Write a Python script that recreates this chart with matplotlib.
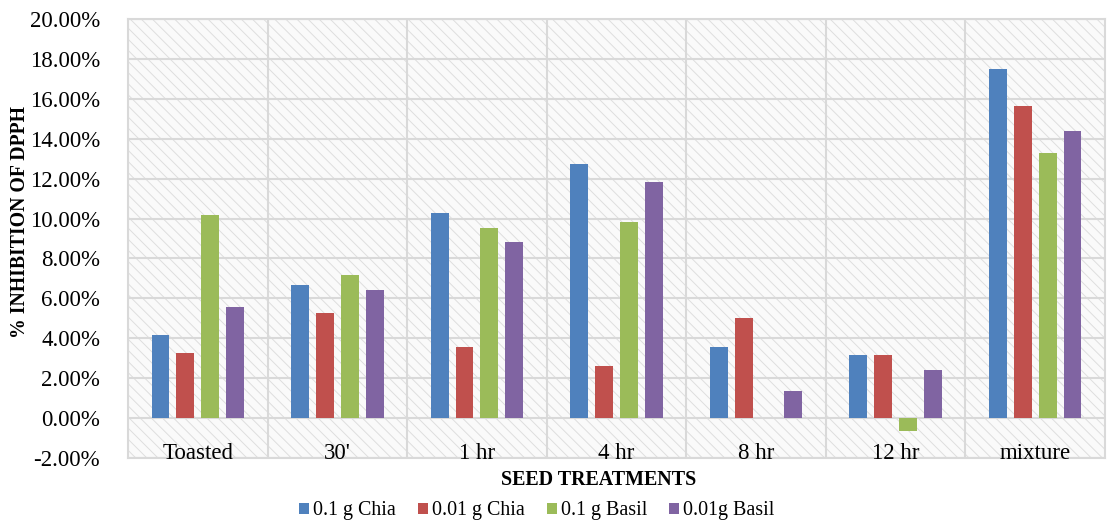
import numpy as np
import matplotlib
matplotlib.use("Agg")
import matplotlib.pyplot as plt
from matplotlib.patches import Rectangle

# values in percent
categories = ["Toasted", "30'", "1 hr", "4 hr", "8 hr", "12 hr", "mixture"]
series_names = ["0.1 g Chia", "0.01 g Chia", "0.1 g Basil", "0.01g Basil"]
chia_01 = [4.17, 6.67, 10.27, 12.72, 3.58, 3.18, 17.47]
chia_001 = [3.25, 5.27, 3.57, 2.62, 5.00, 3.17, 15.65]
basil_01 = [10.18, 7.17, 9.55, 9.83, 0.0, -0.63, 13.30]
basil_001 = [5.57, 6.40, 8.82, 11.82, 1.35, 2.40, 14.38]
yticks = np.arange(-2, 20.01, 2)

colors = ["#4F81BD", "#C0504D", "#9BBB59", "#8064A2"]
grid_c = "#d9d9d9"

plt.rcParams["font.family"] = ["Liberation Serif", "DejaVu Serif"]
plt.rcParams["hatch.linewidth"] = 0.7
plt.rcParams["hatch.color"] = "#dedede"

fig = plt.figure(figsize=(11.07, 5.24), dpi=100)
ax = fig.add_axes([128 / 1107, 1 - 458 / 524, (1105 - 128) / 1107, (458 - 19) / 524])

# textured plot area
ax.add_patch(Rectangle((0, 0), 1, 1, transform=ax.transAxes, facecolor="#fafafa",
                       edgecolor="#dedede", hatch="\\\\\\", linewidth=0, zorder=0))

x = np.arange(len(categories))
step = 0.178
width = 0.128
for i, (vals, name) in enumerate(zip([chia_01, chia_001, basil_01, basil_001], series_names)):
    ax.bar(x + (i - 1.5) * step, vals, width, color=colors[i], label=name, zorder=3)

ax.set_xlim(-0.5, len(categories) - 0.5)
ax.set_ylim(-2, 20)
ax.set_yticks(yticks)
ax.set_yticklabels([f"{v:.2f}%" for v in yticks], fontsize=16.5)
ax.tick_params(axis="y", length=0, pad=20)
ax.set_xticks([])
for v in yticks:
    ax.axhline(v, color=grid_c, lw=1.5, zorder=1)
for b in np.arange(0.5, len(categories) - 0.5):
    ax.axvline(b, color=grid_c, lw=1.5, zorder=1)
for s in ax.spines.values():
    s.set_color(grid_c)
    s.set_linewidth(1.5)

for xi, c in zip(x, categories):
    ax.text(xi, -1.75, c, ha="center", va="center", fontsize=16.5, zorder=4)

fig.text(599 / 1107, 1 - 480 / 524, "SEED TREATMENTS", ha="center", va="center",
         fontsize=14.4, fontweight="bold")
fig.text(20 / 1107, 1 - 222 / 524, "% INHIBITION OF DPPH", ha="center", va="center",
         rotation=90, fontsize=14.2, fontweight="bold")

fig.legend(loc="center", bbox_to_anchor=(537 / 1107, 1 - 511 / 524), ncol=4, frameon=False,
           fontsize=14.4, handlelength=0.5, handleheight=0.5, handletextpad=0.2,
           columnspacing=1.1)

fig.savefig("out.png", dpi=100)
